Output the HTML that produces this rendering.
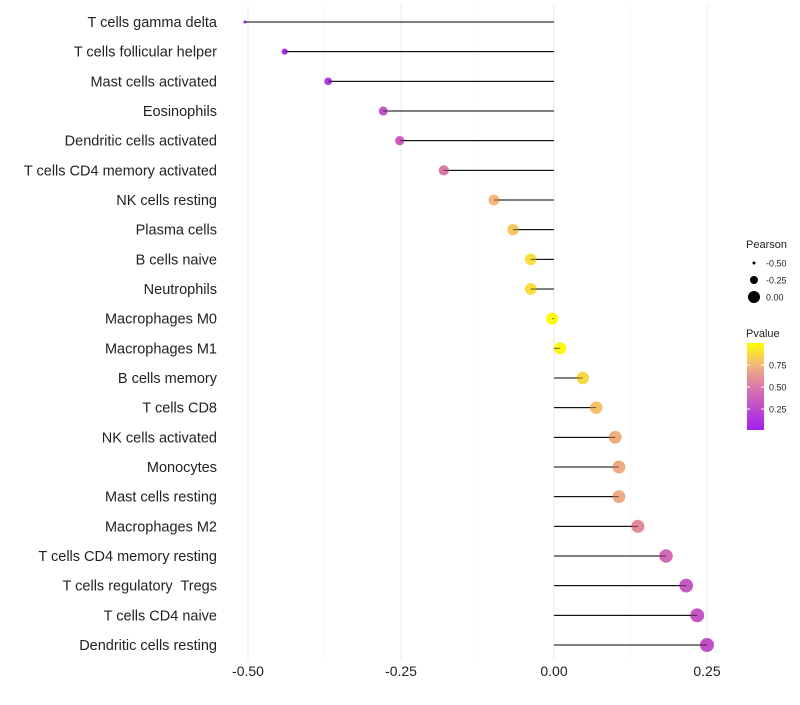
<!DOCTYPE html>
<html><head><meta charset="utf-8"><style>
body{margin:0;background:#fff;font-family:"Liberation Sans",Arial,sans-serif}
text{white-space:pre}
</style></head><body>
<svg id="c" width="800" height="700" xmlns="http://www.w3.org/2000/svg">
<defs><linearGradient id="pg" x1="0" y1="1" x2="0" y2="0">
<stop offset="0" stop-color="#a020f0"/><stop offset="0.5" stop-color="#dc78a8"/><stop offset="0.75" stop-color="#f2b87a"/><stop offset="1" stop-color="#ffff00"/></linearGradient></defs>
</svg>
<script>
const cells=["T cells gamma delta","T cells follicular helper","Mast cells activated","Eosinophils","Dendritic cells activated","T cells CD4 memory activated","NK cells resting","Plasma cells","B cells naive","Neutrophils","Macrophages M0","Macrophages M1","B cells memory","T cells CD8","NK cells activated","Monocytes","Mast cells resting","Macrophages M2","T cells CD4 memory resting","T cells regulatory  Tregs","T cells CD4 naive","Dendritic cells resting"];
const pearson=[-0.505,-0.44,-0.369,-0.279,-0.252,-0.18,-0.098,-0.067,-0.038,-0.038,-0.003,0.01,0.047,0.069,0.1,0.106,0.106,0.137,0.183,0.216,0.234,0.25];
const pvalue=[0.05,0.1,0.15,0.3,0.35,0.5,0.75,0.8,0.88,0.88,0.99,0.97,0.86,0.78,0.72,0.7,0.7,0.58,0.42,0.32,0.3,0.28];
const xTicks=[-0.5,-0.25,0,0.25];
const xTickLabels=["-0.50","-0.25","0.00","0.25"];
const NS="http://www.w3.org/2000/svg",svg=document.getElementById('c');
const x=v=>554+v*612, y=i=>22+i*29.667;
const rad=v=>1.5+5.5*Math.sqrt(Math.max(0,(v+0.505)/0.755));
function mk(t,a,p){const e=document.createElementNS(NS,t);for(const k in a)e.setAttribute(k,a[k]);(p||svg).appendChild(e);return e;}
const stops=[[0,[160,32,240]],[0.5,[220,120,168]],[0.75,[242,184,122]],[1,[255,255,0]]];
function col(p){for(let i=1;i<stops.length;i++){if(p<=stops[i][0]){const a=stops[i-1],b=stops[i],t=(p-a[0])/(b[0]-a[0]);return 'rgb('+a[1].map((c,j)=>Math.round(c+(b[1][j]-c)*t)).join(',')+')';}}return 'rgb(255,255,0)';}
[-0.375,-0.125,0.125].forEach(v=>{const g=mk('line',{x1:x(v),x2:x(v),y1:5,y2:660,stroke:'#f5f5f5','stroke-width':0.6});});
xTicks.forEach((v,i)=>{const g=mk('line',{x1:x(v),x2:x(v),y1:5,y2:660,stroke:'#ebebeb','stroke-width':1});
const t=mk('text',{x:x(v),y:676,'text-anchor':'middle','font-size':14,fill:'#222'});t.textContent=xTickLabels[i];});
cells.forEach((c,i)=>{const t=mk('text',{x:217,y:y(i)+5,'text-anchor':'end','font-size':14.5,fill:'#222'});t.textContent=c;
const l=mk('line',{x1:x(0),x2:x(pearson[i]),y1:y(i),y2:y(i),stroke:'#000','stroke-width':1});
const d=mk('circle',{cx:x(pearson[i]),cy:y(i),r:rad(pearson[i]),fill:col(pvalue[i])});
const l2=mk('line',{x1:x(0),x2:x(pearson[i]),y1:y(i),y2:y(i),stroke:'#000','stroke-width':1,'stroke-opacity':0.6});});
const lg=mk('g',{});
mk('text',{x:746,y:248,'font-size':11,fill:'#222'},lg).textContent='Pearson';
[[-0.5,263,1.5],[-0.25,280,4],[0,297,6]].forEach(([v,yy,r])=>{mk('circle',{cx:754,cy:yy,r:r,fill:'#000'},lg);mk('text',{x:766,y:yy+3.5,'font-size':9,fill:'#222'},lg).textContent=v.toFixed(2);});
mk('text',{x:746,y:337,'font-size':11,fill:'#222'},lg).textContent='Pvalue';
mk('rect',{x:747,y:343,width:17,height:87,fill:'url(#pg)'},lg);
[[0.75,365],[0.5,387],[0.25,409]].forEach(([v,yy])=>{mk('line',{x1:747,x2:750,y1:yy,y2:yy,stroke:'#fff'},lg);mk('line',{x1:761,x2:764,y1:yy,y2:yy,stroke:'#fff'},lg);mk('text',{x:769,y:yy+3.5,'font-size':9,fill:'#222'},lg).textContent=v.toFixed(2);});
</script>
</body></html>
